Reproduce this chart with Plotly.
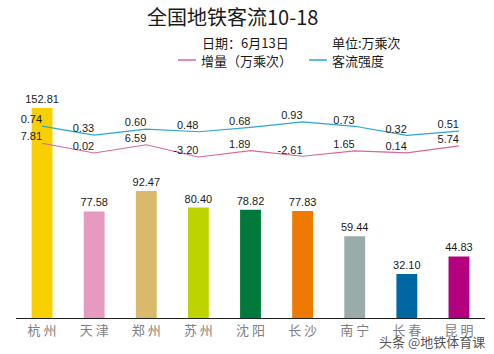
import plotly.graph_objects as go

cities = ["杭州", "天津", "郑州", "苏州", "沈阳", "长沙", "南宁", "长春", "昆明"]
tick_labels = ["杭 州", "天 津", "郑 州", "苏 州", "沈 阳", "长 沙", "南 宁", "长 春", "昆 明"]
flow = [152.81, 77.58, 92.47, 80.40, 78.82, 77.83, 59.44, 32.10, 44.83]
increase = [7.81, 0.02, 6.59, -3.20, 1.89, -2.61, 1.65, 0.14, 5.74]
intensity = [0.74, 0.33, 0.60, 0.48, 0.68, 0.93, 0.73, 0.32, 0.51]
bar_colors = ["#f8d000", "#e69ac0", "#d9b96c", "#bdd400", "#00793a",
              "#ee7a00", "#9aacaa", "#0066a4", "#b3007f"]

PINK = "#d6689c"
BLUE = "#2aa6d6"
num_font = dict(family="Liberation Sans, Arial, sans-serif", size=11, color="#1a1a1a")
cjk = "Noto Sans CJK SC, sans-serif"

fig = go.Figure()
fig.add_trace(go.Bar(
    x=cities, y=flow, marker=dict(color=bar_colors, line=dict(width=0)),
    width=0.4, text=[f"{v:.2f}" for v in flow], textposition="outside",
    constraintext="none",
    textfont=num_font, cliponaxis=False, showlegend=False, yaxis="y"))
fig.add_trace(go.Scatter(
    x=cities, y=increase, mode="lines+text", line=dict(color=PINK, width=1.2),
    text=[f"{v:.2f}" for v in increase], textposition="top left",
    textfont=num_font, cliponaxis=False, showlegend=False, yaxis="y2"))
fig.add_trace(go.Scatter(
    x=cities, y=intensity, mode="lines+text", line=dict(color=BLUE, width=1.2),
    text=[f"{v:.2f}" for v in intensity], textposition="top left",
    textfont=num_font, cliponaxis=False, showlegend=False, yaxis="y3"))

W, H = 494, 354
l, r, t, b = 16, 9, 90, 36
pw, ph = W - l - r, H - t - b

def ann(text, x, y, size, xanchor="left", color="#1a1a1a"):
    return dict(text=text, x=(x - l) / pw, y=(H - b - y) / ph,
                xref="paper", yref="paper", xanchor=xanchor, yanchor="middle",
                showarrow=False, font=dict(family=cjk, size=size, color=color))

fig.update_layout(
    width=W, height=H,
    margin=dict(l=l, r=r, t=t, b=b),
    paper_bgcolor="white", plot_bgcolor="white",
    xaxis=dict(tickmode="array", tickvals=cities, ticktext=tick_labels,
               showline=True, linecolor="#222", linewidth=1.2, ticks="",
               tickfont=dict(family=cjk, size=13, color="#808080"), showgrid=False),
    yaxis=dict(range=[0, 165.9], visible=False, showgrid=False),
    yaxis2=dict(range=[-132, 50.4], overlaying="y", visible=False),
    yaxis3=dict(range=[-7.99, 2.38], overlaying="y", visible=False),
    annotations=[
        ann("全国地铁客流10-18", 232, 16, 20, xanchor="center"),
        ann("日期：6月13日", 200, 43, 13),
        ann("单位:万乘次", 330, 43, 13),
        ann("增量（万乘次）", 199, 60, 13),
        ann("客流强度", 330, 60, 13),
        ann("头条 @地铁体育课", 432, 341, 13, xanchor="center",
            color="rgba(50,50,50,0.85)"),
    ],
)

def px_line(x0, x1, y, color):
    fig.add_shape(type="line", xref="paper", yref="paper",
                  x0=(x0 - l) / pw, x1=(x1 - l) / pw,
                  y0=(H - b - y) / ph, y1=(H - b - y) / ph,
                  line=dict(color=color, width=1.5))

px_line(178, 196, 60, PINK)
px_line(309, 327, 60, BLUE)

fig.write_html("out.html")
